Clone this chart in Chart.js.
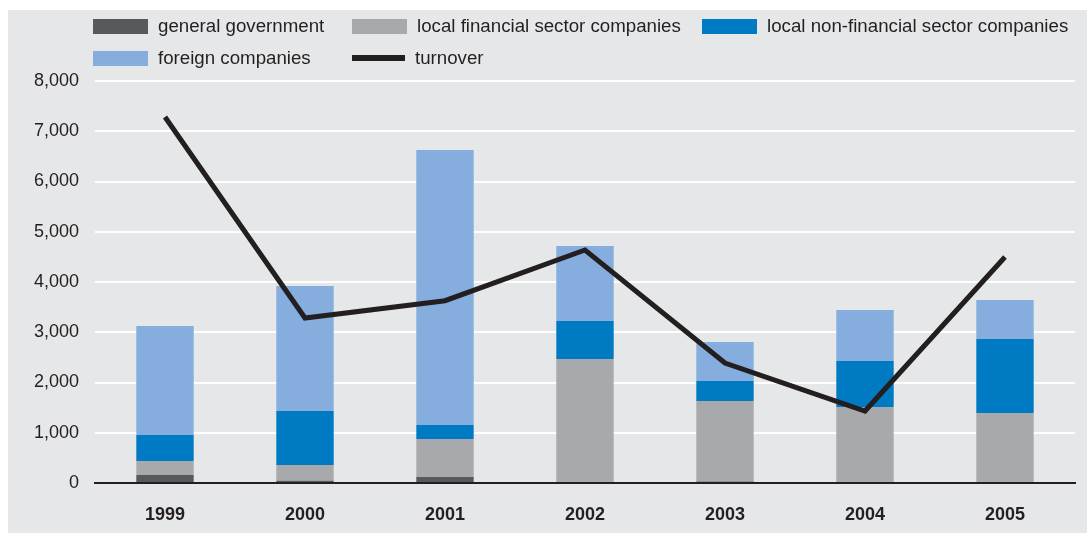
<!DOCTYPE html>
<html lang="en">
<head>
<meta charset="UTF-8">
<title>Turnover by investor group</title>
<script src="https://cdn.jsdelivr.net/npm/chart.js@4.4.1/dist/chart.umd.min.js"></script>
<style>
    body { margin: 0; background: #fff; width: 1087px; height: 533px; overflow: hidden; font-family: "Liberation Sans", Arial, sans-serif; }
    .panel { position: absolute; left: 8px; top: 10px; width: 1079px; height: 523px; background: #e6e7e8; }
    .chartbox { position: absolute; left: 0; top: 0; width: 1087px; height: 533px; }
    .legend { position: absolute; left: 0; top: 0; }
    .item { position: absolute; display: flex; align-items: center; height: 18px; font-size: 18.7px; color: #231f20; white-space: nowrap; }
    .item .box { width: 55px; height: 15px; margin-right: 10px; }
    .item .line { width: 53px; height: 6px; margin-right: 10px; }
</style>
</head>
<body>
<div class="panel"></div>
<div class="chartbox"><canvas id="grafico"></canvas></div>
<div class="legend" id="legenda"></div>

<script>
    // dados
    var anos = ['1999', '2000', '2001', '2002', '2003', '2004', '2005'];
    var governo = [160, 45, 120, 0, 30, 0, 0];
    var financeiras = [280, 313, 755, 2468, 1602, 1512, 1393];
    var naoFinanceiras = [517, 1075, 279, 756, 398, 916, 1473];
    var estrangeiras = [2169, 2487, 5473, 1492, 776, 1015, 776];
    var turnover = [7284, 3284, 3628, 4637, 2388, 1433, 4498];
    var ticksY = [0, 1000, 2000, 3000, 4000, 5000, 6000, 7000, 8000];

    var corTexto = '#231f20';

    function barra(label, data, cor) {
        return {
            type: 'bar',
            label: label,
            data: data,
            backgroundColor: cor,
            stack: 'empresas',
            order: 1,
            barPercentage: 0.41,
            categoryPercentage: 1
        };
    }

    var ctx = document.getElementById('grafico').getContext('2d');

    var myChart = new Chart(ctx, {
        data: {
            labels: anos,
            datasets: [
                barra('general government', governo, '#58595b'),
                barra('local financial sector companies', financeiras, '#a7a9ac'),
                barra('local non-financial sector companies', naoFinanceiras, '#007bc3'),
                barra('foreign companies', estrangeiras, '#85aede'),
                {
                    type: 'line',
                    label: 'turnover',
                    data: turnover,
                    borderColor: corTexto,
                    borderWidth: 5,
                    pointRadius: 0,
                    tension: 0,
                    fill: false,
                    stack: 'turnover',
                    order: 0
                }
            ]
        },
        options: {
            responsive: true,
            maintainAspectRatio: false,
            animation: false,
            layout: { padding: { left: 8, right: 12, top: 81, bottom: 0 } },
            plugins: {
                legend: { display: false },
                tooltip: { enabled: false }
            },
            scales: {
                x: {
                    stacked: true,
                    grid: { display: false, drawTicks: false },
                    border: { display: true, color: corTexto, width: 2 },
                    ticks: {
                        color: corTexto,
                        padding: 21,
                        font: { family: '"Liberation Sans", Arial, sans-serif', size: 18, weight: 'bold' }
                    },
                    afterFit: function (s) { s.height = 50; }
                },
                y: {
                    stacked: true,
                    min: 0,
                    max: 8000,
                    afterBuildTicks: function (s) { s.ticks = ticksY.map(v => ({ value: v })); },
                    grid: {
                        drawTicks: false,
                        lineWidth: 2,
                        color: function (c) { return c.tick && c.tick.value === 0 ? 'rgba(0,0,0,0)' : '#ffffff'; }
                    },
                    border: { display: false },
                    ticks: {
                        color: corTexto,
                        padding: 16,
                        font: { family: '"Liberation Sans", Arial, sans-serif', size: 18 },
                        callback: function (v) { return Number(v).toLocaleString('en-US'); }
                    },
                    afterFit: function (s) { s.width = 87; }
                }
            }
        }
    });

    // legenda em HTML, montada a partir dos datasets
    var posLegenda = [[93, 17], [352, 17], [702, 17], [93, 49], [352, 49]];
    var legenda = document.getElementById('legenda');
    myChart.data.datasets.forEach(function (ds, i) {
        var item = document.createElement('div');
        item.className = 'item';
        item.style.left = posLegenda[i][0] + 'px';
        item.style.top = posLegenda[i][1] + 'px';
        var marca = document.createElement('span');
        if (ds.type === 'line') {
            marca.className = 'line';
            marca.style.background = ds.borderColor;
        } else {
            marca.className = 'box';
            marca.style.background = ds.backgroundColor;
        }
        var texto = document.createElement('span');
        texto.textContent = ds.label;
        item.appendChild(marca);
        item.appendChild(texto);
        legenda.appendChild(item);
    });
</script>
</body>
</html>
